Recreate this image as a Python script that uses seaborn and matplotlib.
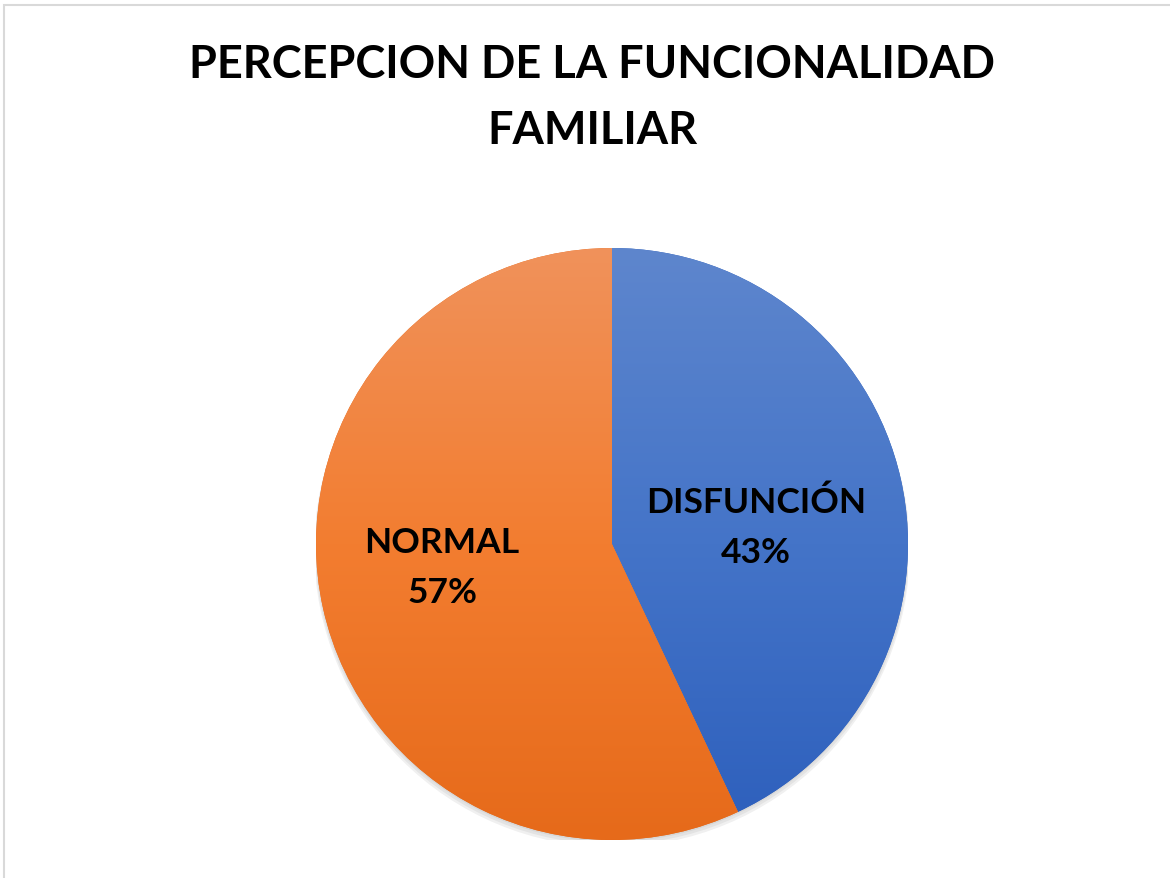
import numpy as np
import matplotlib
matplotlib.use("Agg")
import matplotlib.pyplot as plt
import seaborn as sns
from matplotlib.colors import LinearSegmentedColormap
from matplotlib.patches import Circle, Rectangle

sns.set_style("white")
plt.rcParams['font.family'] = ['Lato', 'DejaVu Sans']

# Data
categories = ['DISFUNCIÓN', 'NORMAL']
percentages = [43, 57]
title_lines = ['PERCEPCION DE LA FUNCIONALIDAD', 'FAMILIAR']

# gradient colors per slice (top, mid, bottom)
gradients = [('#5E86CD', '#4474C8', '#2D5FBC'), ('#F0925B', '#F37D30', '#E66A1A')]
# label placement within the pie (x, y in radius units)
label_pos = [(0.486, 0.057), (-0.574, -0.078)]

W, H = 1170, 879
fig = plt.figure(figsize=(W / 100, H / 100), dpi=100)

# chart border
fig.patches.append(Rectangle((4 / W, -0.1), 1.2, 1.1 - 6 / H, transform=fig.transFigure,
                             fill=False, edgecolor='#D9D9D9', linewidth=1.5))

cx, cy, r = 612, 545, 296
ax = fig.add_axes([(cx - r) / W, (H - cy - r) / H, 2 * r / W, 2 * r / H])
ax.set_xlim(-1, 1)
ax.set_ylim(-1, 1)
ax.set_aspect('equal')
ax.axis('off')

# soft shadow underneath the pie
for i, a in enumerate([0.05, 0.05, 0.06]):
    ax.add_patch(Circle((0, -0.006 * (i + 1)), 1.0 + 0.003 * i, color='black',
                        alpha=a, lw=0, zorder=0))

wedges, _ = ax.pie(percentages, startangle=90, counterclock=False, radius=1.0,
                   colors=[g[2] for g in gradients], wedgeprops=dict(linewidth=0))
grad = np.linspace(0, 1, 256).reshape(-1, 1)
for w, cols in zip(wedges, gradients):
    cmap = LinearSegmentedColormap.from_list('g', list(cols))
    im = ax.imshow(grad, cmap=cmap, extent=(-1, 1, -1, 1), aspect='auto',
                   origin='upper', zorder=2, interpolation='bilinear')
    im.set_clip_path(w)
ax.set_xlim(-1, 1)
ax.set_ylim(-1, 1)

for (x, y), cat, p in zip(label_pos, categories, percentages):
    ax.text(x, y, f'{cat}\n{p}%', ha='center', va='center', fontsize=25.5,
            fontweight='bold', color='black', linespacing=1.7, zorder=5)

fig.text(592 / W, 1 - 78 / H, title_lines[0], ha='center', va='baseline',
         fontsize=32.5, fontweight='bold', color='black')
fig.text(592 / W, 1 - 144 / H, title_lines[1], ha='center', va='baseline',
         fontsize=32.5, fontweight='bold', color='black')

fig.savefig('out.png', dpi=100, facecolor='white')
